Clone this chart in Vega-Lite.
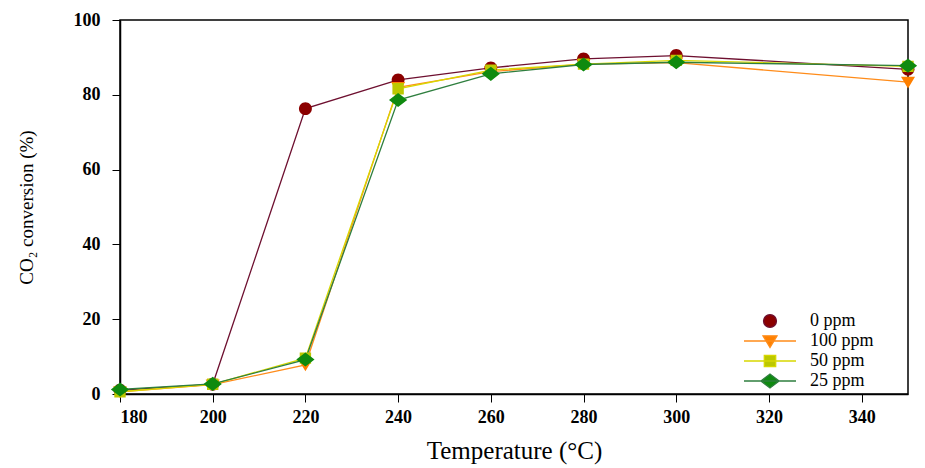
{
  "$schema": "https://vega.github.io/schema/vega-lite/v6.json",
  "autosize": {"type": "none"},
  "width": 788,
  "height": 374,
  "padding": {"left": 120, "top": 20, "right": 17, "bottom": 74},
  "background": "white",
  "config": {
    "view": {"stroke": "black", "strokeWidth": 1.5},
    "font": "Liberation Serif",
    "legend": {"labelFont": "Liberation Serif", "titleFont": "Liberation Serif"},
    "axis": {
      "grid": false,
      "domainColor": "black",
      "domainWidth": 1.5,
      "tickColor": "black",
      "tickSize": 8,
      "labelFont": "Liberation Serif",
      "labelFontWeight": "bold",
      "labelFontSize": 18,
      "labelColor": "black",
      "titleFont": "Liberation Serif",
      "titleFontWeight": "normal",
      "titleColor": "black"
    }
  },
  "data": {
    "values": [
      {"series": "0 ppm", "T": 180, "conv": 1.0},
      {"series": "0 ppm", "T": 200, "conv": 2.6},
      {"series": "0 ppm", "T": 220, "conv": 76.3},
      {"series": "0 ppm", "T": 240, "conv": 84.0},
      {"series": "0 ppm", "T": 260, "conv": 87.2},
      {"series": "0 ppm", "T": 280, "conv": 89.6},
      {"series": "0 ppm", "T": 300, "conv": 90.5},
      {"series": "0 ppm", "T": 350, "conv": 86.8},
      {"series": "100 ppm", "T": 180, "conv": 0.6},
      {"series": "100 ppm", "T": 200, "conv": 2.5},
      {"series": "100 ppm", "T": 220, "conv": 7.8},
      {"series": "100 ppm", "T": 240, "conv": 82.0},
      {"series": "100 ppm", "T": 260, "conv": 86.2},
      {"series": "100 ppm", "T": 280, "conv": 88.2},
      {"series": "100 ppm", "T": 300, "conv": 88.6},
      {"series": "100 ppm", "T": 350, "conv": 83.4},
      {"series": "50 ppm", "T": 180, "conv": 0.6},
      {"series": "50 ppm", "T": 200, "conv": 2.6},
      {"series": "50 ppm", "T": 220, "conv": 9.6},
      {"series": "50 ppm", "T": 240, "conv": 81.6},
      {"series": "50 ppm", "T": 260, "conv": 86.6},
      {"series": "50 ppm", "T": 280, "conv": 88.2},
      {"series": "50 ppm", "T": 300, "conv": 89.2},
      {"series": "50 ppm", "T": 350, "conv": 87.6},
      {"series": "25 ppm", "T": 180, "conv": 1.2},
      {"series": "25 ppm", "T": 200, "conv": 2.7},
      {"series": "25 ppm", "T": 220, "conv": 9.2},
      {"series": "25 ppm", "T": 240, "conv": 78.6},
      {"series": "25 ppm", "T": 260, "conv": 85.6},
      {"series": "25 ppm", "T": 280, "conv": 88.1},
      {"series": "25 ppm", "T": 300, "conv": 88.7},
      {"series": "25 ppm", "T": 350, "conv": 87.8}
    ]
  },
  "encoding": {
    "x": {
      "field": "T", "type": "quantitative",
      "scale": {"domain": [180, 350], "nice": false, "zero": false},
      "axis": {"values": [180, 200, 220, 240, 260, 280, 300, 320, 340], "title": "Temperature (°C)", "titleFontSize": 25, "labelPadding": 6, "titlePadding": 12}
    },
    "y": {
      "field": "conv", "type": "quantitative",
      "scale": {"domain": [0, 100], "nice": false},
      "axis": {"values": [0, 20, 40, 60, 80, 100], "title": "CO₂ conversion (%)", "titleFontSize": 19, "labelPadding": 12, "titlePadding": 37}
    }
  },
  "layer": [
    {
      "mark": {"type": "line", "strokeWidth": 1.3},
      "encoding": {
        "stroke": {
          "field": "series", "type": "nominal",
          "scale": {"domain": ["0 ppm", "100 ppm", "50 ppm", "25 ppm"], "range": ["#6e1030", "#ff8c1a", "#d8d800", "#2f7f3f"]},
          "legend": {
            "title": null, "orient": "none", "legendX": 639.5, "legendY": 290.5, "padding": 0,
            "labelFont": "Liberation Serif", "labelFontSize": 18, "labelColor": "black",
            "symbolSize": 361, "symbolOpacity": 1, "symbolStrokeWidth": 1.3,
            "rowPadding": 0, "labelOffset": 29.5, "symbolOffset": 0
          }
        },
        "order": {"field": "T"}
      }
    },
    {
      "mark": {"type": "point", "filled": true, "opacity": 1, "size": 361},
      "encoding": {
        "strokeWidth": {"value": 0},
        "color": {
          "field": "series", "type": "nominal",
          "scale": {"domain": ["0 ppm", "100 ppm", "50 ppm", "25 ppm"], "range": ["#8b0000", "#ff8000", "#bcc800", "#0f8a0f"]},
          "legend": {
            "title": null, "orient": "none", "legendX": 639.5, "legendY": 290.5, "padding": 0,
            "labelFont": "Liberation Serif", "labelFontSize": 18, "labelColor": "black",
            "symbolSize": 361, "symbolOpacity": 1, "symbolStrokeWidth": 1.3,
            "rowPadding": 0, "labelOffset": 29.5, "symbolOffset": 0
          }
        },
        "stroke": {
          "field": "series", "type": "nominal",
          "legend": {
            "title": null, "orient": "none", "legendX": 639.5, "legendY": 290.5, "padding": 0,
            "labelFont": "Liberation Serif", "labelFontSize": 18, "labelColor": "black",
            "symbolSize": 361, "symbolOpacity": 1, "symbolStrokeWidth": 1.3,
            "rowPadding": 0, "labelOffset": 29.5, "symbolOffset": 0
          }
        },
        "shape": {
          "field": "series", "type": "nominal",
          "scale": {"domain": ["0 ppm", "100 ppm", "50 ppm", "25 ppm"], "range": [
            "M-0.68,0A0.68,0.68,0,1,0,0.68,0A0.68,0.68,0,1,0,-0.68,0Z",
            "M-2.74,0H2.74M-0.74,-0.55L0.74,-0.55L0,0.68Z",
            "M-2.74,0H2.74M-0.6,-0.6H0.6V0.6H-0.6Z",
            "M-2.74,0H2.74M-0.96,0L0,-0.74L0.96,0L0,0.74Z"
          ]},
          "legend": {
            "title": null, "orient": "none", "legendX": 639.5, "legendY": 290.5, "padding": 0,
            "labelFont": "Liberation Serif", "labelFontSize": 18, "labelColor": "black",
            "symbolSize": 361, "symbolOpacity": 1, "symbolStrokeWidth": 1.3,
            "rowPadding": 0, "labelOffset": 29.5, "symbolOffset": 0
          }
        }
      }
    }
  ]
}
